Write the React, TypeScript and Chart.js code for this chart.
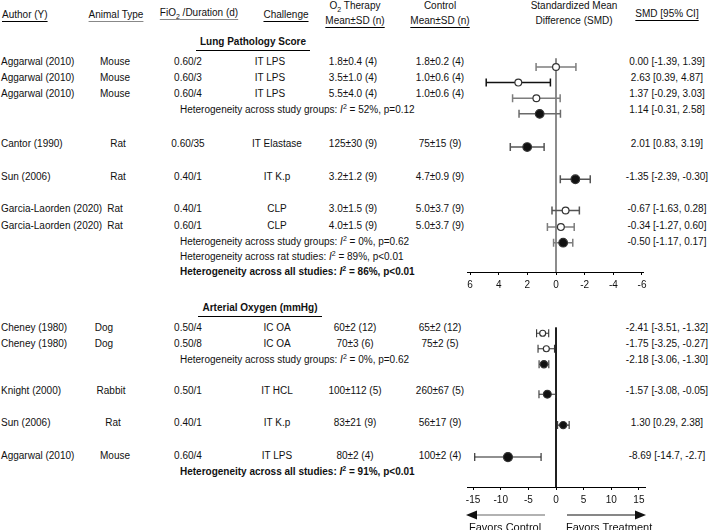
import React, { useEffect, useRef } from "react";
import { Chart, registerables } from "chart.js";

Chart.register(...registerables);

const FONT = '"Liberation Sans", Arial, Helvetica, sans-serif';

// ---------------- Lung Pathology Score ----------------
const lungAuthor = ["Aggarwal (2010)", "Aggarwal (2010)", "Aggarwal (2010)", "Cantor (1990)", "Sun (2006)", "Garcia-Laorden (2020)", "Garcia-Laorden (2020)"];
const lungAnimal = ["Mouse", "Mouse", "Mouse", "Rat", "Rat", "Rat", "Rat"];
const lungFio2 = ["0.60/2", "0.60/3", "0.60/4", "0.60/35", "0.40/1", "0.40/1", "0.60/1"];
const lungChallenge = ["IT LPS", "IT LPS", "IT LPS", "IT Elastase", "IT K.p", "CLP", "CLP"];
const lungO2 = ["1.8±0.4 (4)", "3.5±1.0 (4)", "5.5±4.0 (4)", "125±30 (9)", "3.2±1.2 (9)", "3.0±1.5 (9)", "4.0±1.5 (9)"];
const lungCtrl = ["1.8±0.2 (4)", "1.0±0.6 (4)", "1.0±0.6 (4)", "75±15 (9)", "4.7±0.9 (9)", "5.0±3.7 (9)", "5.0±3.7 (9)"];

const lungSmd = [0.0, 2.63, 1.37, 1.14, 2.01, -1.35, -0.67, -0.34, -0.5];
const lungLow = [-1.39, 0.39, -0.29, -0.31, 0.83, -2.39, -1.63, -1.27, -1.17];
const lungHigh = [1.39, 4.87, 3.03, 2.58, 3.19, -0.3, 0.28, 0.6, 0.17];
const lungSmdLabel = ["0.00 [-1.39, 1.39]", "2.63 [0.39, 4.87]", "1.37 [-0.29, 3.03]", "1.14 [-0.31, 2.58]", "2.01 [0.83, 3.19]", "-1.35 [-2.39, -0.30]", "-0.67 [-1.63, 0.28]", "-0.34 [-1.27, 0.60]", "-0.50 [-1.17, 0.17]"];
const lungPooled = [false, false, false, true, false, false, false, false, true];
const lungTicks = [6, 4, 2, 0, -2, -4, -6];

// ---------------- Arterial Oxygen ----------------
const artAuthor = ["Cheney (1980)", "Cheney (1980)", "Knight (2000)", "Sun (2006)", "Aggarwal (2010)"];
const artAnimal = ["Dog", "Dog", "Rabbit", "Rat", "Mouse"];
const artFio2 = ["0.50/4", "0.50/8", "0.50/1", "0.40/1", "0.60/4"];
const artChallenge = ["IC OA", "IC OA", "IT HCL", "IT K.p", "IT LPS"];
const artO2 = ["60±2 (12)", "70±3 (6)", "100±112 (5)", "83±21 (9)", "80±2 (4)"];
const artCtrl = ["65±2 (12)", "75±2 (5)", "260±67 (5)", "56±17 (9)", "100±2 (4)"];

const artSmd = [-2.41, -1.75, -2.18, -1.57, 1.3, -8.69];
const artLow = [-3.51, -3.25, -3.06, -3.08, 0.29, -14.7];
const artHigh = [-1.32, -0.27, -1.3, -0.05, 2.38, -2.7];
const artSmdLabel = ["-2.41 [-3.51, -1.32]", "-1.75 [-3.25, -0.27]", "-2.18 [-3.06, -1.30]", "-1.57 [-3.08, -0.05]", "1.30 [0.29, 2.38]", "-8.69 [-14.7, -2.7]"];
const artPooled = [false, false, true, false, false, false];
const artTicks = [-15, -10, -5, 0, 5, 10, 15];

// ---------------- Heterogeneity notes ----------------
const lungHetText = ["Heterogeneity across study groups: ", "Heterogeneity across study groups: ", "Heterogeneity across rat studies: ", "Heterogeneity across all studies: "];
const lungHetValue = ["52%, p=0.12", "0%, p=0.62", "89%, p<0.01", "86%, p<0.01"];
const artHetText = ["Heterogeneity across study groups: ", "Heterogeneity across all studies: "];
const artHetValue = ["0%, p=0.62", "91%, p<0.01"];

// ---------------- Layout / style (page pixels) ----------------
const lungRowY = [62, 78, 94, 110, 144, 177, 209, 226, 242];
const lungStudyRow = [0, 1, 2, 4, 5, 6, 7];
const lungHetY = [110, 242, 257, 272];
const lungHetBold = [false, false, false, true];
const lungFilled = [false, false, false, true, true, true, false, false, true];
const lungMarkerR = [3.4, 3.4, 3.4, 4.3, 4.3, 4.3, 3.4, 3.4, 4.3];
const lungCiColor = ["#7d7d7d", "#111111", "#7d7d7d", "#6a6a6a", "#555555", "#555555", "#555555", "#7d7d7d", "#7d7d7d"];
const lungChallengeX = [270, 270, 270, 277, 277, 277, 277];
const lungAnimalX = [115, 115, 115, 118, 118, 115, 115];

const artRowY = [328, 344, 360, 391, 423, 456];
const artStudyRow = [0, 1, 3, 4, 5];
const artHetY = [360, 472];
const artHetBold = [false, true];
const artFilled = [false, false, true, true, true, true];
const artMarkerR = [3, 3, 3.6, 3.9, 3.6, 4.5];
const artCiColor = ["#333333", "#333333", "#333333", "#333333", "#333333", "#222222"];
const artChallengeX = [277, 277, 277, 277, 277];
const artAnimalX = [104, 104, 111, 113, 115];

function buildForest(canvas: HTMLCanvasElement, cfg: any) {
  const datasets: any[] = [];
  cfg.smd.forEach((v: number, i: number) => {
    const y = cfg.rowY[i];
    const filled = cfg.filled[i];
    datasets.push({
      type: "scatter",
      data: [{ x: v, y }],
      pointStyle: "circle",
      pointRadius: cfg.markerR[i],
      pointBackgroundColor: filled ? "#111" : "#fff",
      backgroundColor: filled ? "#111" : "#fff",
      pointBorderColor: "#333",
      borderColor: "#333",
      pointBorderWidth: 1.2,
      order: 0,
    });
    datasets.push({
      type: "line",
      data: [
        { x: cfg.low[i], y },
        { x: cfg.high[i], y },
      ],
      borderColor: cfg.ciColor[i],
      borderWidth: cfg.ciWidth,
      pointStyle: "line",
      pointRotation: 90,
      pointRadius: 4,
      pointBorderColor: cfg.ciColor[i],
      pointBorderWidth: cfg.ciWidth,
      fill: false,
      order: 1,
    });
  });
  datasets.push({
    type: "line",
    data: [
      { x: 0, y: cfg.zeroTop },
      { x: 0, y: cfg.yMax },
    ],
    borderColor: cfg.zeroColor,
    borderWidth: cfg.zeroWidth,
    pointRadius: 0,
    fill: false,
    order: 2,
  });
  return new Chart(canvas, {
    type: "scatter",
    data: { datasets },
    options: {
      responsive: false,
      animation: false,
      events: [],
      layout: { padding: { left: 20, right: 20, top: 0, bottom: 0 } },
      plugins: { legend: { display: false }, tooltip: { enabled: false } },
      scales: {
        x: {
          type: "linear",
          min: cfg.min,
          max: cfg.max,
          reverse: cfg.reverse,
          position: "bottom",
          afterBuildTicks: (s: any) => {
            s.ticks = cfg.ticks.map((v: number) => ({ value: v }));
          },
          afterFit: (s: any) => {
            s.height = cfg.axisHeight;
          },
          ticks: {
            font: { family: FONT, size: 10 },
            color: "#111",
            padding: 4,
            autoSkip: false,
            maxRotation: 0,
          },
          grid: { display: true, drawOnChartArea: false, tickLength: 3, color: "#000" },
          border: { display: true, color: "#000", width: 1 },
        },
        y: { type: "linear", display: false, min: cfg.yMin, max: cfg.yMax, reverse: true },
      },
    },
  } as any);
}

const sup = (
  <span style={{ fontSize: 7, position: "relative", top: -4 }}>2</span>
);
const sub = (
  <span style={{ fontSize: 7, position: "relative", top: 3 }}>2</span>
);

function T(props: any) {
  const { x, y, a = "left", b = false, u = false, uc = "#000", size = 10, children } = props;
  return (
    <div
      style={{
        position: "absolute",
        left: x,
        top: y - 7,
        lineHeight: "14px",
        height: 14,
        whiteSpace: "nowrap",
        fontSize: size,
        transform: a === "center" ? "translateX(-50%)" : undefined,
        fontWeight: b ? "bold" : "normal",
        textDecoration: u ? "underline" : "none",
        textDecorationColor: uc,
        textUnderlineOffset: 3,
      }}
    >
      {children}
    </div>
  );
}

function Het(props: any) {
  const { y, bold, text, value } = props;
  return (
    <T x={180} y={y} b={bold}>
      {text}
      <i>I</i>
      {sup} = {value}
    </T>
  );
}

export default function App() {
  const topRef = useRef<HTMLCanvasElement>(null);
  const botRef = useRef<HTMLCanvasElement>(null);

  useEffect(() => {
    const c1 = buildForest(topRef.current as HTMLCanvasElement, {
      smd: lungSmd,
      low: lungLow,
      high: lungHigh,
      rowY: lungRowY,
      filled: lungFilled,
      markerR: lungMarkerR,
      ciColor: lungCiColor,
      ciWidth: 1.5,
      min: -6.07,
      max: 6.21,
      reverse: true,
      ticks: lungTicks,
      yMin: 40,
      yMax: 272,
      axisHeight: 28,
      zeroTop: 53,
      zeroColor: "#8c8c8c",
      zeroWidth: 2,
    });
    const c2 = buildForest(botRef.current as HTMLCanvasElement, {
      smd: artSmd,
      low: artLow,
      high: artHigh,
      rowY: artRowY,
      filled: artFilled,
      markerR: artMarkerR,
      ciColor: artCiColor,
      ciWidth: 1.1,
      min: -16.1,
      max: 16.1,
      reverse: false,
      ticks: artTicks,
      yMin: 315,
      yMax: 487,
      axisHeight: 43,
      zeroTop: 322,
      zeroColor: "#000",
      zeroWidth: 1,
    });
    return () => {
      c1.destroy();
      c2.destroy();
    };
  }, []);

  return (
    <div
      style={{
        position: "fixed",
        left: 0,
        top: 0,
        width: 708,
        height: 530,
        background: "#fff",
        overflow: "hidden",
        fontFamily: FONT,
        fontSize: 10,
        color: "#111",
      }}
    >
      {/* Header */}
      <T x={2} y={15} u>Author (Y)</T>
      <T x={116} y={15} a="center" u uc="#888">Animal Type</T>
      <T x={199} y={13} a="center" u uc="#888">
        FiO{sub} /Duration (d)
      </T>
      <T x={286} y={15} a="center" u>Challenge</T>
      <T x={355} y={6} a="center">O{sub} Therapy</T>
      <T x={355} y={21} a="center" u>Mean±SD (n)</T>
      <T x={440} y={6} a="center">Control</T>
      <T x={440} y={21} a="center" u>Mean±SD (n)</T>
      <T x={574} y={6} a="center">Standardized Mean</T>
      <T x={574} y={21} a="center">Difference (SMD)</T>
      <T x={667} y={14} a="center" u>SMD [95% CI]</T>

      {/* Section headings */}
      <div style={{ position: "absolute", left: 196, top: 35, width: 114, textAlign: "center", fontWeight: "bold", lineHeight: "14px", borderBottom: "1px solid #000", paddingBottom: 1 }}>
        Lung Pathology Score
      </div>
      <div style={{ position: "absolute", left: 198, top: 301, width: 124, textAlign: "center", fontWeight: "bold", lineHeight: "14px", borderBottom: "1px solid #000", paddingBottom: 1 }}>
        Arterial Oxygen (mmHg)
      </div>

      {/* Lung rows */}
      {lungAuthor.map((s, i) => {
        const y = lungRowY[lungStudyRow[i]];
        return (
          <React.Fragment key={"l" + i}>
            <T x={1} y={y}>{s}</T>
            <T x={lungAnimalX[i]} y={y} a="center">{lungAnimal[i]}</T>
            <T x={188} y={y} a="center">{lungFio2[i]}</T>
            <T x={lungChallengeX[i]} y={y} a="center">{lungChallenge[i]}</T>
            <T x={353} y={y} a="center">{lungO2[i]}</T>
            <T x={440} y={y} a="center">{lungCtrl[i]}</T>
          </React.Fragment>
        );
      })}
      {lungSmdLabel.map((s, i) => (
        <T key={"ls" + i} x={667} y={lungRowY[i]} a="center">{s}</T>
      ))}
      {lungHetText.map((s, i) => (
        <Het key={"lh" + i} y={lungHetY[i]} bold={lungHetBold[i]} text={s} value={lungHetValue[i]} />
      ))}

      {/* Arterial rows */}
      {artAuthor.map((s, i) => {
        const y = artRowY[artStudyRow[i]];
        return (
          <React.Fragment key={"a" + i}>
            <T x={1} y={y}>{s}</T>
            <T x={artAnimalX[i]} y={y} a="center">{artAnimal[i]}</T>
            <T x={188} y={y} a="center">{artFio2[i]}</T>
            <T x={artChallengeX[i]} y={y} a="center">{artChallenge[i]}</T>
            <T x={355} y={y} a="center">{artO2[i]}</T>
            <T x={440} y={y} a="center">{artCtrl[i]}</T>
          </React.Fragment>
        );
      })}
      {artSmdLabel.map((s, i) => (
        <T key={"as" + i} x={667} y={artRowY[i]} a="center">{s}</T>
      ))}
      {artHetText.map((s, i) => (
        <Het key={"ah" + i} y={artHetY[i]} bold={artHetBold[i]} text={s} value={artHetValue[i]} />
      ))}

      {/* Charts */}
      <canvas ref={topRef} width={216} height={260} style={{ position: "absolute", left: 447, top: 40 }} />
      <canvas ref={botRef} width={218} height={215} style={{ position: "absolute", left: 447, top: 315 }} />

      {/* Direction arrows */}
      <svg width={708} height={530} style={{ position: "absolute", left: 0, top: 0, pointerEvents: "none" }}>
        <line x1={545} y1={515} x2={474} y2={515} stroke="#999" strokeWidth={1.5} />
        <polygon points="466,515 477,510.5 477,519.5" fill="#111" />
        <line x1={567} y1={515} x2={638} y2={515} stroke="#111" strokeWidth={1.2} />
        <polygon points="646,515 635,510.5 635,519.5" fill="#111" />
      </svg>
      <T x={469} y={527} size={11}>Favors Control</T>
      <T x={566} y={527} size={11}>Favors Treatment</T>
    </div>
  );
}
